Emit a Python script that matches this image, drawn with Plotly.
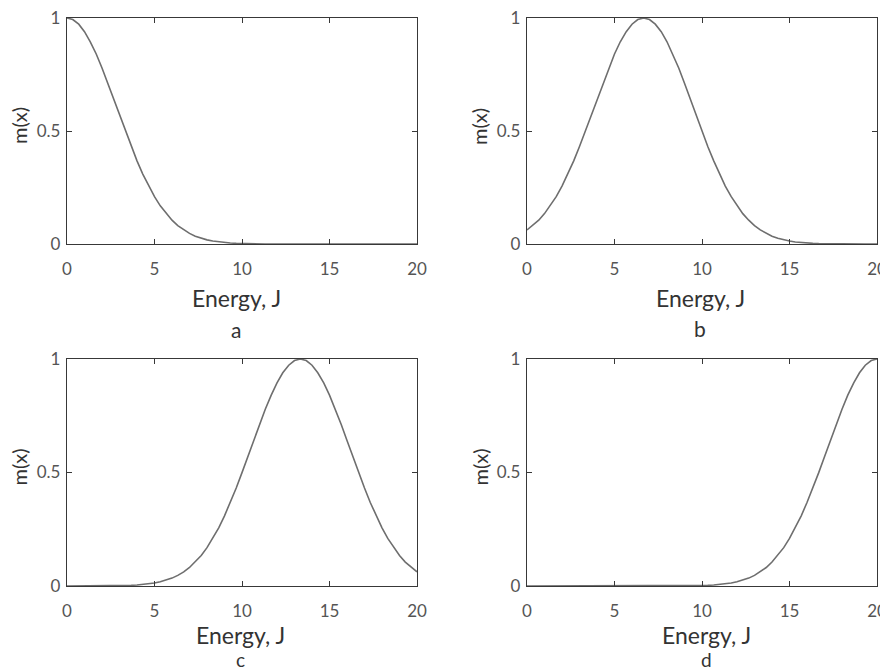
import plotly.graph_objects as go

# Energy grid (J)
energy = [0, 0.33, 0.67, 1, 1.33, 1.67, 2, 2.33, 2.67, 3, 3.33, 3.67, 4, 4.33, 4.67, 5,
          5.33, 5.67, 6, 6.33, 6.67, 7, 7.33, 7.67, 8, 8.33, 8.67, 9, 9.33, 9.67, 10,
          10.33, 10.67, 11, 11.33, 11.67, 12, 12.33, 12.67, 13, 13.33, 13.67, 14, 14.33,
          14.67, 15, 15.33, 15.67, 16, 16.33, 16.67, 17, 17.33, 17.67, 18, 18.33, 18.67,
          19, 19.33, 19.67, 20]

# membership values
mf_a = [1.0, 0.9931, 0.9726, 0.9394, 0.8948, 0.8406, 0.7788, 0.7116, 0.6412, 0.5698,
        0.4994, 0.4316, 0.3679, 0.3092, 0.2564, 0.2096, 0.1690, 0.1344, 0.1054, 0.0815,
        0.0622, 0.0468, 0.0347, 0.0254, 0.0183, 0.0130, 0.0091, 0.0063, 0.0043, 0.0029,
        0.0019, 0.0013, 0.0008, 0.0005, 0.0003, 0.0002, 0.0001,
        0, 0, 0, 0, 0, 0, 0, 0, 0, 0, 0, 0, 0, 0, 0, 0, 0, 0, 0, 0, 0, 0, 0, 0]

mf_b = [0.0622, 0.0815, 0.1054, 0.1344, 0.1690, 0.2096, 0.2564, 0.3092, 0.3679, 0.4316,
        0.4994, 0.5698, 0.6412, 0.7116, 0.7788, 0.8406, 0.8948, 0.9394, 0.9726, 0.9931,
        1.0, 0.9931, 0.9726, 0.9394, 0.8948, 0.8406, 0.7788, 0.7116, 0.6412, 0.5698,
        0.4994, 0.4316, 0.3679, 0.3092, 0.2564, 0.2096, 0.1690, 0.1344, 0.1054, 0.0815,
        0.0622, 0.0468, 0.0347, 0.0254, 0.0183, 0.0130, 0.0091, 0.0063, 0.0043, 0.0029,
        0.0019, 0.0013, 0.0008, 0.0005, 0.0003, 0.0002, 0.0001, 0, 0, 0, 0]

mf_c = [0, 0, 0, 0, 0.0001, 0.0002, 0.0003, 0.0005, 0.0008, 0.0013,
        0.0019, 0.0029, 0.0043, 0.0063, 0.0091, 0.0130, 0.0183, 0.0254, 0.0347, 0.0468,
        0.0622, 0.0815, 0.1054, 0.1344, 0.1690, 0.2096, 0.2564, 0.3092, 0.3679, 0.4316,
        0.4994, 0.5698, 0.6412, 0.7116, 0.7788, 0.8406, 0.8948, 0.9394, 0.9726, 0.9931,
        1.0, 0.9931, 0.9726, 0.9394, 0.8948, 0.8406, 0.7788, 0.7116, 0.6412, 0.5698,
        0.4994, 0.4316, 0.3679, 0.3092, 0.2564, 0.2096, 0.1690, 0.1344, 0.1054, 0.0815,
        0.0622]

mf_d = [0, 0, 0, 0, 0, 0, 0, 0, 0, 0, 0, 0, 0, 0, 0, 0, 0, 0, 0, 0, 0, 0, 0, 0,
        0.0001, 0.0002, 0.0003, 0.0005, 0.0008, 0.0013, 0.0019, 0.0029, 0.0043, 0.0063,
        0.0091, 0.0130, 0.0183, 0.0254, 0.0347, 0.0468, 0.0622, 0.0815, 0.1054, 0.1344,
        0.1690, 0.2096, 0.2564, 0.3092, 0.3679, 0.4316, 0.4994, 0.5698, 0.6412, 0.7116,
        0.7788, 0.8406, 0.8948, 0.9394, 0.9726, 0.9931, 1.0]

panel_labels = ["a", "b", "c", "d"]
x_title = "Energy, J"
y_title = "m(x)"
x_ticks = [0, 5, 10, 15, 20]
y_ticks = [0, 0.5, 1]

# page body has an 8px margin, so the figure is drawn 8px in from the window corner
OFF = 8
W, H = 888, 670
series = [mf_a, mf_b, mf_c, mf_d]
# panel boxes in window pixels: left, right, top, bottom
boxes = [(67, 417, 18, 244), (527, 877, 18, 244), (67, 417, 359, 586), (527, 877, 359, 586)]
xt_cx = [236, 700, 240, 706]
xt_cy = [298, 298, 635, 635]
lab_cy = [329, 328, 659, 659]
lab_size = [21, 21, 19, 19]
yt_cx = [19, 479, 19, 480]


def px(v):
    return (v - OFF) / W


def py(v):
    return 1 - (v - OFF) / H


fig = go.Figure()
AX = "#383838"
FONT = "Lato, 'Open Sans', sans-serif"
for i, (ys, box) in enumerate(zip(series, boxes)):
    n = i + 1
    xa = "x" if n == 1 else f"x{n}"
    ya = "y" if n == 1 else f"y{n}"
    fig.add_trace(go.Scatter(x=energy, y=ys, mode="lines", xaxis=xa, yaxis=ya,
                             line=dict(color="#6e6e6e", width=1.6), showlegend=False,
                             hoverinfo="skip"))
    l, r, t, b = box
    common = dict(showline=True, mirror="ticks", linecolor=AX, linewidth=1.3,
                  ticks="inside", ticklen=5, tickcolor=AX, tickwidth=1,
                  showgrid=False, zeroline=False, automargin=False,
                  ticklabeloverflow="allow",
                  tickfont=dict(family=FONT, size=17, color="#555"))
    fig.layout[f"xaxis{'' if n == 1 else n}"] = dict(
        domain=[px(l), px(r)], range=[0, 20], tickvals=x_ticks, anchor=ya,
        ticklabelstandoff=9, **common)
    fig.layout[f"yaxis{'' if n == 1 else n}"] = dict(
        domain=[py(b), py(t)], range=[0, 1], tickvals=y_ticks,
        ticktext=["0", "0.5", "1"], anchor=xa, ticklabelstandoff=2, **common)
    fig.add_annotation(text=x_title, x=px(xt_cx[i]), y=py(xt_cy[i]), xref="paper",
                       yref="paper", showarrow=False, xanchor="center", yanchor="middle",
                       font=dict(family=FONT, size=23, color="#333"))
    fig.add_annotation(text=panel_labels[i], x=px(xt_cx[i]), y=py(lab_cy[i]),
                       xref="paper", yref="paper", showarrow=False, xanchor="center",
                       yanchor="middle", font=dict(family=FONT, size=lab_size[i], color="#333"))
    fig.add_annotation(text=y_title, x=px(yt_cx[i]), y=py((t + b) / 2 - 5),
                       xref="paper", yref="paper", showarrow=False, xanchor="center",
                       yanchor="middle", textangle=-90,
                       font=dict(family=FONT, size=20, color="#333"))

fig.update_layout(width=W, height=H, margin=dict(l=0, r=0, t=0, b=0, pad=0, autoexpand=False),
                  paper_bgcolor="white", plot_bgcolor="white")
fig.write_html("out.html")
